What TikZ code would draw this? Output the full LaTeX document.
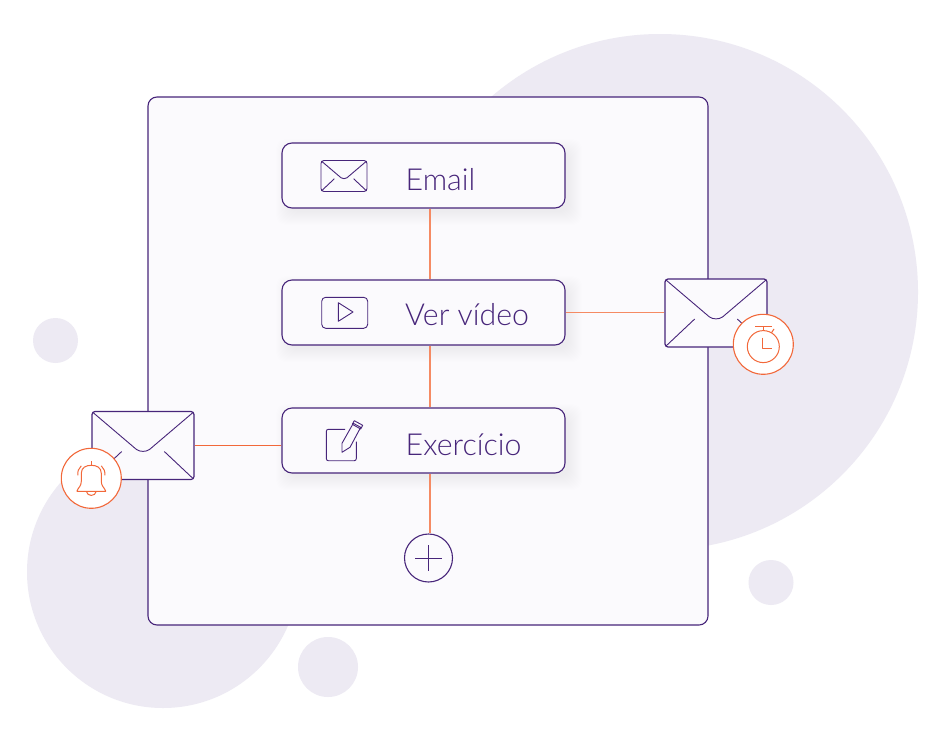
\documentclass[tikz,border=0pt]{standalone}
\usepackage{fontspec}
\setmainfont{Lato Light}
\usepackage{tikz}
\usetikzlibrary{positioning}

\definecolor{inkpurple}{HTML}{47257A}
\definecolor{blobgray}{HTML}{EDEAF3}
\definecolor{panelfill}{HTML}{FBFAFD}
\definecolor{alertorange}{HTML}{F2683A}
\definecolor{linkorange}{HTML}{F58A63}

\tikzset{
	blob/.style={circle,fill=blobgray,inner sep=0pt},
	panel/.style={draw=inkpurple,fill=panelfill,line width=1.1pt,rounded corners=9pt,inner sep=0pt},
	stepbox/.style={draw=inkpurple,fill=panelfill,line width=1.1pt,rounded corners=10pt,minimum width=283pt,minimum height=65pt,inner sep=0pt},
	mailbox/.style={draw=inkpurple,fill=panelfill,line width=1.2pt,rounded corners=3pt,inner sep=0pt},
	iconline/.style={draw=inkpurple,line width=.9pt,line join=round},
	badge/.style={circle,draw=alertorange,fill=white,line width=1.1pt,minimum size=60pt,inner sep=0pt},
	badgeline/.style={draw=alertorange,line width=1pt,line join=round},
	link/.style={draw=linkorange,line width=1.1pt},
	steplabel/.style={anchor=base west,text=inkpurple,font=\fontsize{30.3}{36}\selectfont,inner sep=0pt}
}

% Lines of the envelope flap, centred on a mail node %
\newcommand{\mailflap}[2]{
	\begin{scope}[shift={(#1.center)},scale=#2]
		\draw [iconline] (-50,-33) -- (-6.5,4) .. controls (-3,6.5) and (3,6.5) .. (6.5,4) -- (50,-33);
		\draw [iconline] (-50,33) -- (-21.3,6);
		\draw [iconline] (50,33) -- (21.3,6);
	\end{scope}
}

\begin{document}
\begin{tikzpicture}[x=1pt,y=-1pt]
	\useasboundingbox (0,0) rectangle (941,744);
	\fill [white] (0,0) rectangle (941,744);
	% Background Circles %
	\node [blob,minimum size=516pt] (bigblob) at (660,292) {};
	\node [blob,minimum size=272pt] (lowblob) at (163,572) {};
	\node [blob,minimum size=45pt] (dotleft) at (55.5,340.5) {};
	\node [blob,minimum size=45pt] (dotright) at (771,582.5) {};
	\node [blob,minimum size=60pt] (dotlow) at (328,667) {};
	% Panel %
	\node [panel,minimum width=560pt,minimum height=528pt] (board) at (428,361) {};
	\coordinate (spine) at (430,361);
	% Soft Shadows %
	\foreach \y in {143,280,408}
		\foreach \s in {1,...,14}
			\fill [black,opacity=.0025,rounded corners=10pt] (282+8-\s,\y+10-\s) rectangle (565+3+\s,\y+65+3+\s);
	% Steps %
	\node [stepbox] (email) at (423.5,175.5) {};
	\node [stepbox] (video) at (423.5,312.5) {};
	\node [stepbox] (exercise) at (423.5,440.5) {};
	\node [steplabel] (emailtext) at (405.5,190.5) {Email};
	\node [steplabel] (videotext) at (405,325.5) {Ver vídeo};
	\node [steplabel] (exercisetext) at (405.5,455) {Exercício};
	% Add Button %
	\node [circle,draw=inkpurple,fill=panelfill,line width=1.1pt,minimum size=48pt,inner sep=0pt] (plus) at (428.5,558) {};
	\draw [iconline] (415,558) -- (442,558);
	\draw [iconline] (428.5,545) -- (428.5,571);
	% Mail Nodes %
	\node [mailbox,minimum width=102pt,minimum height=68pt] (mailleft) at (143,445.5) {};
	\node [mailbox,minimum width=102pt,minimum height=68pt] (mailright) at (716,313) {};
	\mailflap{mailleft}{1}
	\mailflap{mailright}{1}
	% Lines %
	\draw [link] (email.south -| spine) -- (video.north -| spine);
	\draw [link] (video.south -| spine) -- (exercise.north -| spine);
	\draw [link] (exercise.south -| spine) -- (plus.north -| spine);
	\draw [link] (video.east) -- (mailright.west |- video.east);
	\draw [link,draw=alertorange,line width=.9pt] (mailleft.east) -- (exercise.west |- mailleft.east);
	% Email Icon %
	\node [mailbox,draw=inkpurple,line width=.9pt,minimum width=46pt,minimum height=31pt] (mailicon) at (344,176) {};
	\mailflap{mailicon}{.45}
	% Video Icon %
	\node [draw=inkpurple,line width=.9pt,rounded corners=4pt,minimum width=46pt,minimum height=31pt,inner sep=0pt] (playicon) at (344.7,312.8) {};
	\draw [iconline] (338.3,302.7) -- ++ (0,18.6) -- ++ (14.7,-9.3) -- cycle;
	% Pencil Icon %
	\draw [iconline,rounded corners=2pt] (345,429.3) -- (326.3,429.3) -- (326.3,460.7) -- (356.3,460.7) -- (356.3,441.7);
	\draw [iconline] (342,452.3) -- (342,443.3) -- (353.3,423.3) -- (360.7,427.3) -- (350,447.3) -- cycle;
	\draw [iconline] (354.3,420.7) -- (362.7,425.3) -- (360.7,429) -- (352.3,424.3) -- cycle;
	% Bell Badge %
	\node [badge] (bell) at (91.3,478.3) {};
	\begin{scope}[shift={(bell.center)}]
		\draw [badgeline] (-14.5,13) -- (14.5,13) .. controls (13,9) and (10,8) .. (10,3) -- (10,-5) .. controls (10,-11) and (5,-13) .. (0,-13) .. controls (-5,-13) and (-10,-11) .. (-10,-5) -- (-10,3) .. controls (-10,8) and (-13,9) .. (-14.5,13);
		\draw [badgeline] (0,-13) -- (0,-17);
		\draw [badgeline] (-5,13) .. controls (-4,18.5) and (4,18.5) .. (5,13);
		\draw [badgeline] (-13.5,-3) .. controls (-14,-7) and (-12.5,-10) .. (-10,-12.5);
		\draw [badgeline] (13.5,-3) .. controls (14,-7) and (12.5,-10) .. (10,-12.5);
	\end{scope}
	% Timer Badge %
	\node [badge] (timer) at (763.3,344.3) {};
	\begin{scope}[shift={(timer.center)}]
		\draw [badgeline] (0,2.3) circle [radius=16];
		\draw [badgeline] (-8.3,-18.3) -- (8.3,-18.3);
		\draw [badgeline] (0,-18.3) -- (0,-13.7);
		\draw [badgeline] (8.3,-11.7) -- (10.7,-15.3);
		\draw [badgeline] (-1,-6.7) -- (-1,4) -- (8.3,4);
	\end{scope}
\end{tikzpicture}
\end{document}
